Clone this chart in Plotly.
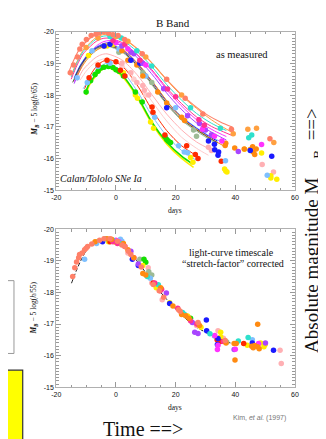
import plotly.graph_objects as go

W, H = 326, 439

# ---------------- axis ticks ----------------
X_TICKS = [-20, 0, 20, 40, 60]
X_TICK_TEXT = ["-20", "0", "20", "40", "60"]
Y_TICKS = [-20, -19, -18, -17, -16, -15]
Y_TICK_TEXT = ["-20", "-19", "-18", "-17", "-16", "-15"]

# ---------------- top panel: fitted light curves (as measured) ----------------
CUR_SALMON_T = [-16, -14, -12, -10, -8, -6, -4, 1, 6, 11, 16, 21, 26, 31, 35, 39]
CUR_SALMON_M = [-18.68, -19.13, -19.48, -19.68, -19.85, -19.95, -19.98, -19.87, -19.55, -19.12, -18.59, -18.10, -17.69, -17.35, -17.15, -16.99]
CUR_ORANGE_T = [-15, -13, -11, -9, -7, -5, -3, 2, 7, 12, 17, 22, 27, 32, 36, 39]
CUR_ORANGE_M = [-18.62, -19.07, -19.42, -19.62, -19.79, -19.89, -19.92, -19.80, -19.47, -19.02, -18.48, -17.98, -17.58, -17.22, -16.98, -16.82]
CUR_CYAN_T = [-15, -13, -11, -9, -7, -5, -3, 2, 7, 12, 17, 22, 27, 32, 37]
CUR_CYAN_M = [-18.57, -19.02, -19.37, -19.57, -19.74, -19.84, -19.87, -19.74, -19.38, -18.90, -18.33, -17.84, -17.42, -17.11, -16.88]
CUR_HOTPINK_T = [-15, -13, -11, -9, -7, -5, -3, 2, 7, 12, 17, 22, 27, 32, 36, 39]
CUR_HOTPINK_M = [-18.50, -18.95, -19.30, -19.50, -19.67, -19.77, -19.80, -19.66, -19.29, -18.80, -18.23, -17.73, -17.31, -17.01, -16.84, -16.72]
CUR_MAGENTA_T = [-14, -12, -10, -8, -6, -4, -2, 3, 8, 13, 18, 23, 28, 33, 37]
CUR_MAGENTA_M = [-18.42, -18.87, -19.22, -19.42, -19.59, -19.69, -19.72, -19.58, -19.18, -18.65, -18.06, -17.56, -17.15, -16.87, -16.69]
CUR_PURPLE_T = [-14, -12, -10, -8, -6, -4, -2, 3, 8, 13, 18, 23, 28, 33, 37]
CUR_PURPLE_M = [-18.36, -18.81, -19.16, -19.36, -19.53, -19.63, -19.66, -19.52, -19.10, -18.55, -17.95, -17.45, -17.05, -16.78, -16.58]
CUR_BLUE_T = [-14, -12, -10, -8, -6, -3, 2, 7, 12, 17, 22, 27, 32, 34]
CUR_BLUE_M = [-18.53, -18.92, -19.20, -19.40, -19.53, -19.60, -19.43, -19.00, -18.43, -17.80, -17.30, -16.95, -16.65, -16.55]
CUR_LBLUE_T = [-14, -12, -10, -8, -6, -3, 2, 7, 12, 17, 22, 27, 32, 36]
CUR_LBLUE_M = [-18.55, -18.94, -19.22, -19.42, -19.55, -19.62, -19.45, -19.02, -18.45, -17.82, -17.32, -16.97, -16.67, -16.50]
CUR_DARK_T = [-14.5, -12, -10, -8, -6, -3, 2, 7, 12, 17, 22, 27, 32, 34]
CUR_DARK_M = [-18.40, -18.89, -19.17, -19.37, -19.50, -19.57, -19.39, -18.95, -18.37, -17.74, -17.24, -16.90, -16.60, -16.50]
CUR_GRAYGREEN_T = [-14, -12, -10, -8, -6, -3, 2, 7, 12, 17, 22, 27, 32, 34]
CUR_GRAYGREEN_M = [-18.47, -18.86, -19.14, -19.34, -19.47, -19.54, -19.36, -18.92, -18.33, -17.70, -17.20, -16.86, -16.56, -16.46]
CUR_DKORANGE_T = [-13, -11, -9, -7, -5, -2, 3, 8, 13, 18, 23, 28, 33, 36]
CUR_DKORANGE_M = [-18.60, -18.95, -19.20, -19.38, -19.49, -19.55, -19.38, -18.92, -18.33, -17.70, -17.20, -16.86, -16.56, -16.40]
CUR_PINK_T = [-13, -11, -9, -7, -5, -3, 2, 7, 12, 17, 22, 27, 32]
CUR_PINK_M = [-18.45, -18.80, -19.00, -19.17, -19.27, -19.30, -19.11, -18.65, -18.02, -17.40, -16.90, -16.52, -16.27]
CUR_PINK2_T = [-12, -10, -8, -6, -3, 2, 7, 12, 17, 22, 27, 31]
CUR_PINK2_M = [-18.47, -18.75, -18.95, -19.08, -19.15, -18.95, -18.45, -17.81, -17.18, -16.67, -16.32, -16.10]
CUR_RED_T = [-10.5, -9, -7, -5, -2.5, 2, 7, 12, 17, 22, 27.5]
CUR_RED_M = [-18.20, -18.55, -18.85, -19.03, -19.12, -18.92, -18.33, -17.55, -16.88, -16.40, -16.06]
CUR_LBLUE2_T = [-11, -9, -7, -5, -3, 2, 7, 12, 17, 22, 27]
CUR_LBLUE2_M = [-18.20, -18.50, -18.75, -18.92, -19.00, -18.76, -18.14, -17.36, -16.71, -16.25, -15.94]
CUR_YELLOW_T = [-10, -9, -7, -5, -3, 2, 7, 12, 17, 22, 26]
CUR_YELLOW_M = [-18.00, -18.30, -18.57, -18.78, -18.88, -18.60, -17.95, -17.10, -16.46, -16.00, -15.72]
CUR_GREEN_T = [-10.3, -9, -7, -5, -3, 2, 7, 12, 17, 22, 25.6]
CUR_GREEN_M = [-18.05, -18.35, -18.62, -18.82, -18.92, -18.64, -17.99, -17.15, -16.52, -16.07, -15.83]

# ---------------- top panel: measured points ----------------
PTS_SALMON_T = [-15.3, -14.2, -12.9, -12.1, -11.3, -9.9, -8.3, -6.7, -5.5, -4.1, -2.5, -1.0, 0.7, 2.9, 8.8, 17.0, 23.2, 29.1, 38.7, 51.6]
PTS_SALMON_M = [-18.70, -18.95, -19.20, -19.45, -19.60, -19.75, -19.88, -19.92, -19.97, -20.0, -19.95, -19.90, -19.88, -19.75, -19.30, -18.50, -17.90, -17.40, -16.92, -16.62]
PTS_ORANGE_T = [-10, -6, 0, 4, 10, 22, 39.3, 44.2, 47.1, 52.9]
PTS_ORANGE_M = [-19.5, -19.8, -19.85, -19.7, -19.2, -18.0, -16.78, -16.92, -16.95, -16.5]
PTS_CYAN_T = [-2, 1.8, 7, 12, 25, 35, 44.5, 45.5]
PTS_CYAN_M = [-19.85, -19.8, -19.4, -18.92, -17.6, -16.95, -16.65, -16.74]
PTS_HOTPINK_T = [-1, 3, 8, 17.3, 20, 27.8, 29.6]
PTS_HOTPINK_M = [-19.72, -19.6, -19.1, -18.19, -17.95, -17.22, -17.05]
PTS_MAGENTA_T = [0, 4, 10, 29, 33, 35.5, 48.8]
PTS_MAGENTA_M = [-19.65, -19.45, -18.95, -16.92, -16.7, -16.55, -16.44]
PTS_PURPLE_T = [2, 5, 6, 9, 16, 24, 28, 30, 32, 41]
PTS_PURPLE_M = [-19.55, -19.35, -19.3, -19.0, -18.2, -17.35, -17.1, -16.9, -16.75, -16.22]
PTS_BLUE_T = [-4, -2, 5, 8, 17, 31, 33, 33.1, 34.2, 34.4, 45, 52.2]
PTS_BLUE_M = [-19.55, -19.6, -19.1, -19.0, -17.6, -16.55, -16.45, -16.27, -16.1, -16.2, -16.25, -16.07]
PTS_LBLUE_T = [-13, -8, 1, 10, 20, 36.7, 50.7]
PTS_LBLUE_M = [-18.55, -19.4, -19.45, -18.6, -17.6, -15.93, -15.47]
PTS_LBLUE2_T = [-9.6, -6, -2, 13, 21, 22.9, 24]
PTS_LBLUE2_M = [-18.4, -18.9, -19.0, -17.3, -16.4, -16.2, -16.18]
PTS_GRAYGREEN_T = [1, 9, 12, 26, 27]
PTS_GRAYGREEN_M = [-19.35, -18.7, -18.4, -16.9, -16.7]
PTS_DKORANGE_T = [-4, 2, 4, 7, 9, 14, 17, 22, 23, 36.6, 36.8, 39.8, 43, 45, 45.8, 46, 47, 46.5]
PTS_DKORANGE_M = [-19.55, -19.4, -19.1, -18.95, -18.6, -18.1, -17.75, -17.3, -17.2, -16.41, -16.48, -16.33, -16.3, -16.28, -16.37, -16.2, -16.3, -16.12]
PTS_PINK_T = [2, 5, 7, 9, 9.5, 11, 31, 32, 49, 52.8]
PTS_PINK_M = [-19.0, -18.7, -18.4, -18.3, -18.15, -18.0, -16.35, -16.25, -15.81, -15.57]
PTS_PINK2_T = [-3, 2, 6, 10]
PTS_PINK2_M = [-19.1, -18.9, -18.5, -18.0]
PTS_RED_T = [-9, -6, -3, 0, 1.5, 3, 12.1, 12.4, 16.4, 23.7, 26.6, 27.5, 35.3]
PTS_RED_M = [-18.55, -18.95, -19.1, -19.05, -18.78, -18.6, -17.62, -17.46, -16.74, -16.4, -16.12, -16.0, -15.91]
PTS_GREEN_T = [-10, -8.5, -7, -6, -5, -4, -2.5, -1, 0, 1, 2.5, 6.5, 8.8, 16.4, 17, 17.5, 18.3]
PTS_GREEN_M = [-18.1, -18.45, -18.65, -18.75, -18.85, -18.88, -18.9, -18.87, -18.8, -18.75, -18.6, -18.1, -17.78, -16.69, -16.6, -16.55, -16.5]
PTS_YELLOW_T = [-9.2, -3, -1, 2.5, 6.5, 7.2, 11.6, 12.6, 25.0, 25.8, 36.4, 36.8, 37.2, 43.1, 48.8, 51.9, 51.9, 53.9]
PTS_YELLOW_M = [-19.25, -19.55, -19.6, -18.7, -18.0, -17.9, -17.15, -16.95, -16.03, -15.88, -15.67, -15.6, -15.57, -16.29, -16.17, -15.45, -15.38, -15.34]

# ---------------- bottom panel: stretch-corrected ----------------
TPL_T = [-14.9, -13, -11, -9, -7, -5, -3, -1, 1, 3, 5, 7, 9, 11, 13, 15, 17, 19, 21, 23, 25, 27, 30, 33, 36, 40]
TPL_M = [-18.29, -18.75, -19.15, -19.45, -19.6, -19.66, -19.67, -19.63, -19.57, -19.43, -19.22, -19.0, -18.75, -18.5, -18.25, -18.0, -17.78, -17.57, -17.38, -17.2, -17.04, -16.9, -16.74, -16.6, -16.47, -16.36]

COR_SALMON_T = [-14.5, -13.8, -13.2, -12.5, -12.2, -11.3, -10.5, -10, -9.5, -8.1, -5.5, -4, -2, 0.5, 2, 3, 4.2, 5, 8.5, 12.5, 14.5, 16, 21, 21.5, 27.5, 36.6]
COR_SALMON_M = [-18.5, -18.78, -18.96, -19.1, -19.2, -19.25, -19.35, -19.4, -19.45, -19.53, -19.65, -19.7, -19.7, -19.62, -19.5, -19.45, -19.3, -19.2, -18.8, -18.25, -18.05, -17.85, -17.45, -17.4, -17.05, -16.48]
COR_ORANGE_T = [-7, -3, -1.5, 2.5, 4, 6, 9, 10, 15, 19.1, 22, 23.4, 24.5, 28, 36.9, 39.6, 40.3, 39.9, 45.5, 46, 46.5, 47.5, 47.5, 48]
COR_ORANGE_M = [-19.6, -19.7, -19.68, -19.55, -19.35, -19.1, -18.6, -18.55, -18.15, -17.57, -17.3, -17.26, -17.18, -16.95, -16.4, -16.38, -16.38, -15.86, -16.3, -16.25, -16.32, -16.99, -16.28, -16.22]
COR_PINK_T = [4, 10.8, 11, 12, 15.5, 27, 34.2, 36, 55, 55.4]
COR_PINK_M = [-19.25, -18.78, -18.5, -18.3, -17.77, -16.95, -16.79, -16.55, -16.17, -15.75]
COR_GRAYGREEN_T = [8, 11, 12, 37.1]
COR_GRAYGREEN_M = [-19.05, -18.65, -18.55, -16.43]
COR_CYAN_T = [-3.5, -1, 1.5, 10.5, 14.2, 22.3, 22.9, 31.5, 41, 44.3]
COR_CYAN_M = [-19.7, -19.65, -19.55, -18.5, -18.24, -17.36, -17.31, -16.69, -16.46, -16.57]
COR_HOTPINK_T = [-1, 0.5, 3, 13, 14.8, 15.3, 20.7, 25, 27.1, 36]
COR_HOTPINK_M = [-19.6, -19.55, -19.45, -18.3, -18.05, -18.1, -17.5, -17.1, -17.0, -16.45]
COR_MAGENTA_T = [0, 1, 6, 33.1, 34, 34.2, 47.8, 40]
COR_MAGENTA_M = [-19.65, -19.6, -19.1, -16.64, -16.19, -16.33, -16.38, -16.2]
COR_PURPLE_T = [5, 7.5, 16.9, 25.6, 26.4, 27.5, 39.6, 50.1]
COR_PURPLE_M = [-19.3, -18.9, -17.98, -17.05, -16.74, -16.7, -16.19, -16.4]
COR_BLUE_T = [-4.5, 5.5, 7.5, 18, 30.3, 30.4, 34.2, 34, 45.7, 52.8]
COR_BLUE_M = [-19.6, -19.05, -18.85, -17.65, -17.13, -16.79, -16.54, -16.35, -16.4, -16.17]
COR_LBLUE_T = [-10.5, -6.5, 1.5, 2, 11.5, 45.7, 33]
COR_LBLUE_M = [-19.05, -19.55, -19.68, -19.62, -18.45, -16.5, -16.62]
COR_GREEN_T = [-6.5, 9.4, 10, 25]
COR_GREEN_M = [-19.59, -19.05, -18.95, -17.18]
COR_YELLOW_T = [-2.5, 0, 9, 13.5, 18, 24, 28.5, 35.1, 35.1, 44, 48.5, 49.6, 50]
COR_YELLOW_M = [-19.6, -19.58, -18.85, -18.15, -17.67, -17.25, -16.9, -16.74, -16.6, -16.33, -16.4, -16.28, -16.35]
COR_RED_T = [-2, 12.5, 27.5, 33.9, 42.8, 35]
COR_RED_M = [-19.6, -18.3, -17.0, -16.5, -16.38, -16.45]

# ---------------- colours ----------------
C_SALMON = "#ff8068"
C_ORANGE = "#ffa040"
C_CYAN = "#2ee0cc"
C_HOTPINK = "#ff3392"
C_MAGENTA = "#ff33ff"
C_PURPLE = "#a845ff"
C_BLUE = "#1a1aff"
C_LBLUE = "#7ec0ff"
C_DARK = "#4a4a28"
C_GRAYGREEN = "#9dbb95"
C_DKORANGE = "#ff8a10"
C_PINK = "#ffb0b4"
C_PINK2 = "#ffcccc"
C_RED = "#ff2a00"
C_YELLOW = "#ffee00"
C_GREEN = "#14e000"

SERIF = "Liberation Serif"
SANS = "Liberation Sans"

fig = go.Figure()

top_curves = [
    (CUR_PINK2_T, CUR_PINK2_M, C_PINK2, 1.0),
    (CUR_PINK_T, CUR_PINK_M, C_PINK, 1.0),
    (CUR_SALMON_T, CUR_SALMON_M, C_SALMON, 1.1),
    (CUR_ORANGE_T, CUR_ORANGE_M, C_ORANGE, 1.0),
    (CUR_CYAN_T, CUR_CYAN_M, C_CYAN, 1.0),
    (CUR_HOTPINK_T, CUR_HOTPINK_M, C_HOTPINK, 1.0),
    (CUR_MAGENTA_T, CUR_MAGENTA_M, C_MAGENTA, 1.0),
    (CUR_PURPLE_T, CUR_PURPLE_M, C_PURPLE, 1.0),
    (CUR_LBLUE_T, CUR_LBLUE_M, C_LBLUE, 1.0),
    (CUR_BLUE_T, CUR_BLUE_M, C_BLUE, 1.0),
    (CUR_GRAYGREEN_T, CUR_GRAYGREEN_M, C_GRAYGREEN, 1.0),
    (CUR_DKORANGE_T, CUR_DKORANGE_M, C_DKORANGE, 1.0),
    (CUR_DARK_T, CUR_DARK_M, C_DARK, 0.9),
    (CUR_RED_T, CUR_RED_M, C_RED, 1.0),
    (CUR_LBLUE2_T, CUR_LBLUE2_M, C_LBLUE, 1.0),
    (CUR_YELLOW_T, CUR_YELLOW_M, C_YELLOW, 1.6),
    (CUR_GREEN_T, CUR_GREEN_M, C_GREEN, 1.6),
]
for t, m, c, w in top_curves:
    fig.add_trace(go.Scatter(x=t, y=m, mode="lines", line=dict(color=c, width=w, shape="spline", smoothing=0.8),
                             xaxis="x", yaxis="y", showlegend=False, hoverinfo="skip"))

top_points = [
    (PTS_PINK2_T, PTS_PINK2_M, C_PINK2),
    (PTS_PINK_T, PTS_PINK_M, C_PINK),
    (PTS_YELLOW_T, PTS_YELLOW_M, C_YELLOW),
    (PTS_GREEN_T, PTS_GREEN_M, C_GREEN),
    (PTS_LBLUE2_T, PTS_LBLUE2_M, C_LBLUE),
    (PTS_RED_T, PTS_RED_M, C_RED),
    (PTS_GRAYGREEN_T, PTS_GRAYGREEN_M, C_GRAYGREEN),
    (PTS_LBLUE_T, PTS_LBLUE_M, C_LBLUE),
    (PTS_DKORANGE_T, PTS_DKORANGE_M, C_DKORANGE),
    (PTS_BLUE_T, PTS_BLUE_M, C_BLUE),
    (PTS_PURPLE_T, PTS_PURPLE_M, C_PURPLE),
    (PTS_MAGENTA_T, PTS_MAGENTA_M, C_MAGENTA),
    (PTS_HOTPINK_T, PTS_HOTPINK_M, C_HOTPINK),
    (PTS_CYAN_T, PTS_CYAN_M, C_CYAN),
    (PTS_ORANGE_T, PTS_ORANGE_M, C_ORANGE),
    (PTS_SALMON_T, PTS_SALMON_M, C_SALMON),
]
for t, m, c in top_points:
    fig.add_trace(go.Scatter(x=t, y=m, mode="markers", marker=dict(color=c, size=5.5, line=dict(width=0)),
                             xaxis="x", yaxis="y", showlegend=False, hoverinfo="skip"))

fig.add_trace(go.Scatter(x=TPL_T, y=TPL_M, mode="lines", line=dict(color="#222", width=1, dash="4px,2px", shape="spline"),
                         xaxis="x2", yaxis="y2", showlegend=False, hoverinfo="skip"))
bottom_points = [
    (COR_PINK_T, COR_PINK_M, C_PINK),
    (COR_GRAYGREEN_T, COR_GRAYGREEN_M, C_GRAYGREEN),
    (COR_GREEN_T, COR_GREEN_M, C_GREEN),
    (COR_LBLUE_T, COR_LBLUE_M, C_LBLUE),
    (COR_YELLOW_T, COR_YELLOW_M, C_YELLOW),
    (COR_RED_T, COR_RED_M, C_RED),
    (COR_BLUE_T, COR_BLUE_M, C_BLUE),
    (COR_PURPLE_T, COR_PURPLE_M, C_PURPLE),
    (COR_MAGENTA_T, COR_MAGENTA_M, C_MAGENTA),
    (COR_CYAN_T, COR_CYAN_M, C_CYAN),
    (COR_HOTPINK_T, COR_HOTPINK_M, C_HOTPINK),
    (COR_ORANGE_T, COR_ORANGE_M, C_DKORANGE),
    (COR_SALMON_T, COR_SALMON_M, C_SALMON),
]
for t, m, c in bottom_points:
    fig.add_trace(go.Scatter(x=t, y=m, mode="markers", marker=dict(color=c, size=5.5, line=dict(width=0)),
                             xaxis="x2", yaxis="y2", showlegend=False, hoverinfo="skip"))


def px(x):
    return x / W


def py(y):
    return 1 - y / H


XDOM = [px(44.5), px(290)]
TOPDOM = [py(181), py(20)]
BOTDOM = [py(381.3), py(220.7)]

frame = "#b0b0b0"
tickc = "#999999"


def xaxis_cfg(anchor):
    return dict(domain=XDOM, anchor=anchor, range=[-20, 60], tickmode="array", tickvals=X_TICKS, ticktext=X_TICK_TEXT,
                ticks="inside", ticklen=5, tickcolor=tickc, showline=True, linecolor=frame, linewidth=1,
                mirror="ticks", showgrid=False, zeroline=False,
                minor=dict(ticks="inside", ticklen=2.5, tick0=0, dtick=5, tickcolor=tickc, showgrid=False),
                tickfont=dict(family=SANS, size=7, color="#111"))


def yaxis_cfg(anchor, dom):
    return dict(domain=dom, anchor=anchor, range=[-15, -20], tickmode="array", tickvals=Y_TICKS, ticktext=Y_TICK_TEXT,
                ticks="inside", ticklen=5, tickcolor=tickc, showline=True, linecolor=frame, linewidth=1,
                mirror="ticks", showgrid=False, zeroline=False,
                minor=dict(ticks="inside", ticklen=2.5, tick0=-20, dtick=0.1, tickcolor=tickc, showgrid=False),
                tickfont=dict(family=SANS, size=7, color="#111"))


ann = []


def add_text(x, y, text, size, family=SERIF, color="#111", angle=0, xanchor="center", yanchor="middle"):
    ann.append(dict(x=px(x), y=py(y), xref="paper", yref="paper", text=text, showarrow=False,
                    font=dict(family=family, size=size, color=color), textangle=angle,
                    xanchor=xanchor, yanchor=yanchor))


add_text(165, 11, "B Band", 11)
add_text(236, 43, "as measured", 10.5)
add_text(91, 169, "<i>Calan/Tololo SNe Ia</i>", 10)
add_text(167, 201.5, "days", 7.5)
add_text(23, 99, "<b><i>M</i></b><sub><b><i>B</i></b></sub> − 5 log(<i>h</i>/65)", 7.5, angle=-90)
add_text(225, 244, "light-curve timescale", 10)
add_text(226.5, 256, "“stretch-factor” corrected", 10)
add_text(167, 402, "days", 7.5)
add_text(22, 301, "<b><i>M</i></b><sub><b><i>B</i></b></sub> − 5 log(<i>h</i>/55)", 7.5, angle=-90)
add_text(253, 413, "Kim, <i>et al.</i> (1997)", 7, family=SANS, color="#777")
add_text(134, 424, "Time ==>", 20)
add_text(309, 222, "Absolute magnitude M\u00a0\u00a0\u00a0\u00a0<sub>B</sub>\u00a0\u00a0==>", 19, angle=-90)

shapes = [
    dict(type="rect", xref="paper", yref="paper", x0=px(-10), x1=px(1), y0=py(347), y1=py(273),
         line=dict(color="#999999", width=1), fillcolor="rgba(0,0,0,0)"),
    dict(type="rect", xref="paper", yref="paper", x0=px(-10), x1=px(10), y0=py(445), y1=py(364),
         line=dict(color="#333333", width=1.2), fillcolor="#ffff00"),
]

fig.update_layout(
    width=W, height=H, margin=dict(l=0, r=0, t=0, b=0),
    paper_bgcolor="white", plot_bgcolor="white", showlegend=False,
    xaxis=xaxis_cfg("y"), yaxis=yaxis_cfg("x", TOPDOM),
    xaxis2=xaxis_cfg("y2"), yaxis2=yaxis_cfg("x2", BOTDOM),
    annotations=ann, shapes=shapes,
)

fig.write_html("out.html")
